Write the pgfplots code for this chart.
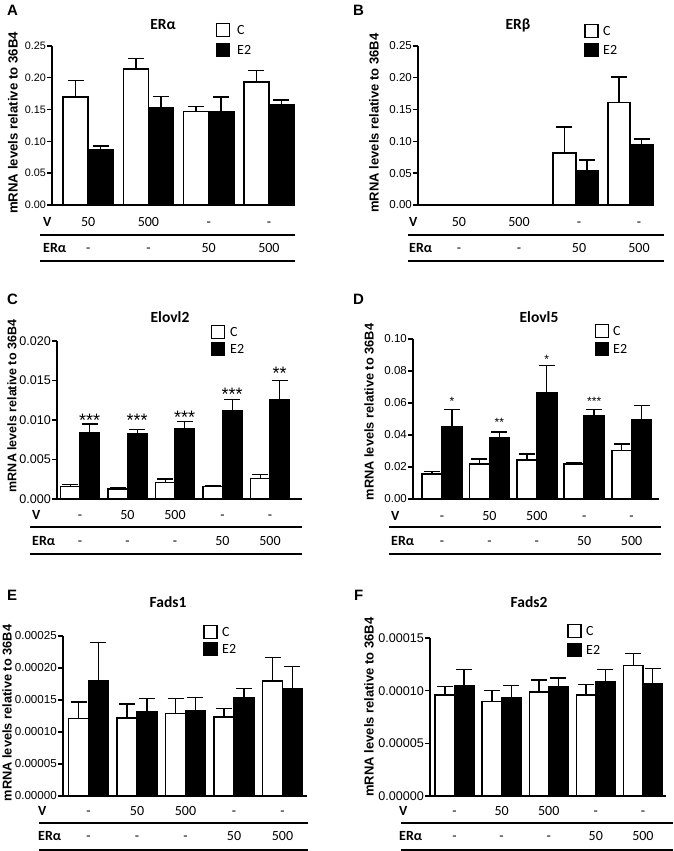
\documentclass[border=0pt]{standalone}
\usepackage{fontspec}
\setmainfont{Liberation Sans}
\newfontfamily\calib{Carlito}
\usepackage{pgfplots}
\pgfplotsset{compat=1.18}
\newcommand{\fs}[1]{\fontsize{#1}{#1}\selectfont}
\newcommand{\rv}[3]{\node[font=\calib\fs{14}, anchor=base] at ([yshift=#2pt]axis cs:#1,0) {#3};}
\newcommand{\st}[4]{\node[font=\fs{#4}, anchor=base, yshift={-0.57*#4pt}] at (axis cs:#1,#2) {#3};}
\pgfplotsset{
  panel/.style={scale only axis, anchor=south west, clip=false,
    axis x line*=bottom, axis y line*=left,
    axis line style={-, line width=1.6pt, black},
    xtick=\empty, ytick pos=left, tick align=outside, major tick length=5pt,
    tick style={line width=1.4pt, black},
    scaled y ticks=false, ymin=0,
    ybar, bar shift=0pt,
    yticklabel style={/pgf/number format/fixed, /pgf/number format/fixed zerofill, /pgf/number format/assume math mode=true, inner sep=1pt},
  },
  errs/.style={error bars/y dir=plus, error bars/y explicit,
    error bars/error bar style={line width=1.4pt, black},
    error bars/error mark options={rotate=90, mark size=8pt, line width=1.4pt, black}},
  cb/.style={fill=white, draw=black, line width=1.7pt, bar shift=0pt, errs},
  eb/.style={fill=black, draw=black, line width=1.7pt, bar shift=0pt, errs},
}
\begin{document}
\begin{tikzpicture}
\useasboundingbox (0pt,0pt) rectangle (673pt,851pt);
% ---------------- A
\begin{axis}[panel, at={(52pt,646pt)}, width=241pt, height=159pt,
  xmin=-0.6, xmax=3.4, ymax=0.25, ytick={0,0.05,0.1,0.15,0.2,0.25}, bar width=0.415,
  yticklabel style={font=\fs{10.8}, /pgf/number format/precision=2}]
\addplot[cb] coordinates {(-0.2075,0.170) +- (0,0.026) (0.7925,0.214) +- (0,0.016) (1.7925,0.147) +- (0,0.008) (2.7925,0.193) +- (0,0.018)};
\addplot[eb] coordinates {(0.2075,0.087) +- (0,0.006) (1.2075,0.152) +- (0,0.019) (2.2075,0.147) +- (0,0.023) (3.2075,0.157) +- (0,0.008)};
\rv{0}{-21.5}{50}\rv{1}{-21.5}{500}\rv{2}{-21.5}{-}\rv{3}{-21.5}{-}
\rv{0}{-47.5}{-}\rv{1}{-47.5}{-}\rv{2}{-47.5}{50}\rv{3}{-47.5}{500}
\end{axis}
% ---------------- B
\begin{axis}[panel, at={(418pt,646pt)}, width=235pt, height=159pt,
  xmin=-0.683, xmax=3.233, ymax=0.25, ytick={0,0.05,0.1,0.15,0.2,0.25}, bar width=0.375,
  yticklabel style={font=\fs{11.5}, /pgf/number format/precision=2}]
\addplot[cb] coordinates {(1.758,0.0816) +- (0,0.041) (2.667,0.161) +- (0,0.040)};
\addplot[eb] coordinates {(2.133,0.054) +- (0,0.017) (3.042,0.095) +- (0,0.009)};
\rv{0}{-21.5}{50}\rv{1}{-21.5}{500}\rv{2}{-21.5}{-}\rv{3}{-21.5}{-}
\rv{0}{-47.5}{-}\rv{1}{-47.5}{-}\rv{2}{-47.5}{50}\rv{3}{-47.5}{500}
\end{axis}
% ---------------- C
\begin{axis}[panel, at={(57pt,352pt)}, width=245pt, height=158pt,
  xmin=-0.484, xmax=4.674, ymax=0.02, ytick={0,0.005,0.01,0.015,0.02}, bar width=0.41,
  yticklabel style={font=\fs{12.6}, /pgf/number format/precision=3}]
\addplot[cb] coordinates {(-0.205,0.0016) +- (0,0.00026) (0.795,0.0013) +- (0,0.00018) (1.795,0.0021) +- (0,0.00043) (2.795,0.0016) +- (0,0.00005) (3.795,0.0026) +- (0,0.0005)};
\addplot[eb] coordinates {(0.205,0.00835) +- (0,0.00115) (1.205,0.00823) +- (0,0.00055) (2.205,0.0089) +- (0,0.0009) (3.205,0.0112) +- (0,0.00137) (4.205,0.01257) +- (0,0.00245)};
\st{0.205}{0.0105}{***}{18}\st{1.205}{0.0105}{***}{18}\st{2.205}{0.0108}{***}{18}\st{3.205}{0.0138}{***}{18}\st{4.205}{0.0164}{**}{18}
\rv{0}{-20.5}{-}\rv{1}{-20.5}{50}\rv{2}{-20.5}{500}\rv{3}{-20.5}{-}\rv{4}{-20.5}{-}
\rv{0}{-46.5}{-}\rv{1}{-46.5}{-}\rv{2}{-46.5}{-}\rv{3}{-46.5}{50}\rv{4}{-46.5}{500}
\end{axis}
% ---------------- D
\begin{axis}[panel, at={(413pt,352pt)}, width=246pt, height=160pt,
  xmin=-0.612, xmax=4.578, ymax=0.1, ytick={0,0.02,0.04,0.06,0.08,0.1}, bar width=0.42,
  yticklabel style={font=\fs{11.5}, /pgf/number format/precision=2}]
\addplot[cb] coordinates {(-0.21,0.0155) +- (0,0.0017) (0.79,0.0218) +- (0,0.0031) (1.79,0.0243) +- (0,0.0037) (2.79,0.0218) +- (0,0.0010) (3.79,0.0303) +- (0,0.0040)};
\addplot[eb] coordinates {(0.21,0.0452) +- (0,0.0108) (1.21,0.0385) +- (0,0.0033) (2.21,0.0661) +- (0,0.0172) (3.21,0.0521) +- (0,0.0039) (4.21,0.0494) +- (0,0.0090)};
\st{0.21}{0.063}{*}{12}\st{1.21}{0.0494}{**}{12}\st{2.21}{0.0887}{*}{12}\st{3.21}{0.063}{***}{12}
\rv{0}{-21.5}{-}\rv{1}{-21.5}{50}\rv{2}{-21.5}{500}\rv{3}{-21.5}{-}\rv{4}{-21.5}{-}
\rv{0}{-46.5}{-}\rv{1}{-46.5}{-}\rv{2}{-46.5}{-}\rv{3}{-46.5}{50}\rv{4}{-46.5}{500}
\end{axis}
% ---------------- E
\begin{axis}[panel, at={(63pt,55pt)}, width=244pt, height=160pt,
  xmin=-0.526, xmax=4.505, ymax=0.00025, ytick={0,0.00005,0.0001,0.00015,0.0002,0.00025}, bar width=0.41,
  yticklabel style={font=\fs{11.6}, /pgf/number format/precision=5}]
\addplot[cb] coordinates {(-0.205,0.000121) +- (0,0.000026) (0.795,0.000122) +- (0,0.000022) (1.795,0.000129) +- (0,0.000023) (2.795,0.000123) +- (0,0.000014) (3.795,0.000180) +- (0,0.000036)};
\addplot[eb] coordinates {(0.205,0.000180) +- (0,0.000060) (1.205,0.000132) +- (0,0.000020) (2.205,0.000133) +- (0,0.000021) (3.205,0.000153) +- (0,0.000015) (4.205,0.000167) +- (0,0.000035)};
\rv{0}{-19.5}{-}\rv{1}{-19.5}{50}\rv{2}{-19.5}{500}\rv{3}{-19.5}{-}\rv{4}{-19.5}{-}
\rv{0}{-44.5}{-}\rv{1}{-44.5}{-}\rv{2}{-44.5}{-}\rv{3}{-44.5}{50}\rv{4}{-44.5}{500}
\end{axis}
% ---------------- F
\begin{axis}[panel, at={(430pt,55pt)}, width=236pt, height=158pt,
  xmin=-0.52, xmax=4.49, ymax=0.00015, ytick={0,0.00005,0.0001,0.00015}, bar width=0.41,
  yticklabel style={font=\fs{12.6}, /pgf/number format/precision=5}]
\addplot[cb] coordinates {(-0.205,0.0000960) +- (0,0.000008) (0.795,0.0000896) +- (0,0.0000104) (1.795,0.0000985) +- (0,0.0000115) (2.795,0.0000957) +- (0,0.0000103) (3.795,0.000124) +- (0,0.000011)};
\addplot[eb] coordinates {(0.205,0.000105) +- (0,0.000015) (1.205,0.0000935) +- (0,0.0000115) (2.205,0.000104) +- (0,0.000008) (3.205,0.000108) +- (0,0.000012) (4.205,0.000106) +- (0,0.000015)};
\rv{0}{-19.5}{-}\rv{1}{-19.5}{50}\rv{2}{-19.5}{500}\rv{3}{-19.5}{-}\rv{4}{-19.5}{-}
\rv{0}{-44.5}{-}\rv{1}{-44.5}{-}\rv{2}{-44.5}{-}\rv{3}{-44.5}{50}\rv{4}{-44.5}{500}
\end{axis}
% ---------------- annotations
\begin{scope}[x=1pt, y=1pt]
\tikzset{ttl/.style={font=\calib\bfseries\fs{15.5}, anchor=base},
  let/.style={font=\bfseries\fs{15}, anchor=base west, inner sep=0pt},
  ylab/.style={font=\bfseries\fs{#1}, rotate=90, anchor=center, inner sep=0pt},
  rn/.style={font=\calib\bfseries\fs{14}, anchor=base west, inner sep=0pt},
  lt/.style={font=\calib\fs{14}, anchor=base west, inner sep=0pt}}
\newcommand{\leg}[4]{%
  \draw[line width=1.3pt, fill=white] ({#1-6.5},{#2-6.5}) rectangle ++(13,13);
  \draw[line width=1.3pt, fill=black] ({#1-6.5},{#3-6.5}) rectangle ++(13,13);
  \node[lt] at (#4,{#2-4.5}) {C};
  \node[lt] at (#4,{#3-4.5}) {E2};}
% titles
\node[ttl] at (163,821) {ERα};
\node[ttl] at (518,821) {ERβ};
\node[ttl] at (170,528) {Elovl2};
\node[ttl] at (539,528) {Elovl5};
\node[ttl] at (168,243) {Fads1};
\node[ttl] at (529,243) {Fads2};
% letters
\node[let] at (7,835.6) {A};
\node[let] at (353,835.6) {B};
\node[let] at (7,546.6) {C};
\node[let] at (353,546) {D};
\node[let] at (7,250) {E};
\node[let] at (354,250) {F};
% y labels
\node[ylab=13.2] at (13,728) {mRNA levels relative to 36B4};
\node[ylab=13] at (374,728) {mRNA levels relative to 36B4};
\node[ylab=12.5] at (12,445) {mRNA levels relative to 36B4};
\node[ylab=12.8] at (369,439) {mRNA levels relative to 36B4};
\node[ylab=12.8] at (7,138) {mRNA levels relative to 36B4};
\node[ylab=13] at (369,144) {mRNA levels relative to 36B4};
% legends
\leg{223}{821}{801}{237}
\leg{591.5}{820}{801}{603}
\leg{218}{519}{502}{230}
\leg{602}{520}{502}{613}
\leg{210.5}{219}{202}{222}
\leg{574.5}{220}{201}{586}
% row names and lines
\foreach \xn/\xa/\xb/\yv/\ye/\la/\lb in {43/40/295/624.5/598.5/616/590, 409/408/664/624.5/598.5/616/590, 32/30/302/331.5/305.5/324/297, 391/389/661/330.5/305.5/324/297, 38/39/308/35.5/10.5/28/1, 399/401/673/35.5/10.5/28/1}{
  \node[rn] at (\xn,\yv) {V};
  \node[rn] at (\xn,\ye) {ERα};
  \draw[line width=1.2pt] (\xa,\la) -- (\xb,\la);
  \draw[line width=1.2pt] (\xa,\lb) -- (\xb,\lb);
}
\end{scope}
\end{tikzpicture}
\end{document}
